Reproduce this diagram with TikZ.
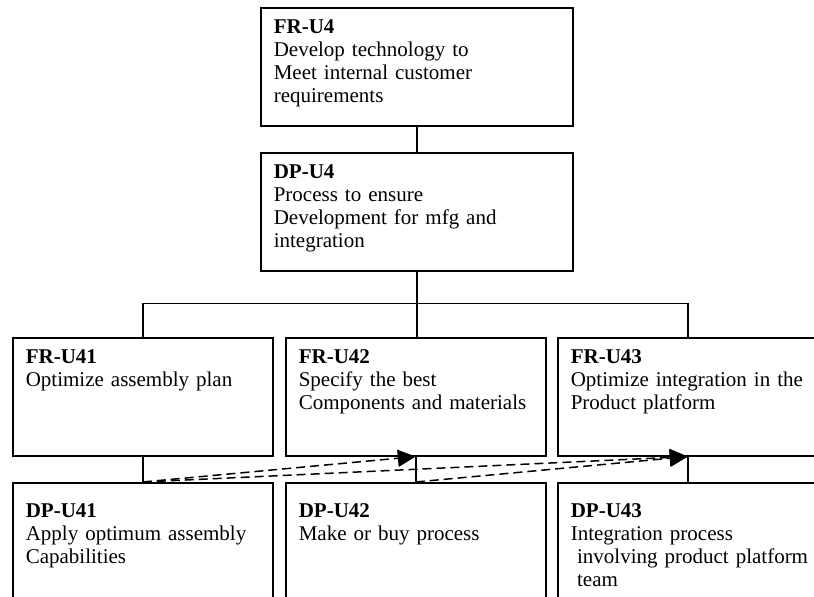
\documentclass[tikz,border=0pt]{standalone}
\usepackage{fontspec}
\setmainfont{Liberation Serif}
\usetikzlibrary{arrows.meta}

\begin{document}
\begin{tikzpicture}[x=1pt,y=1pt,>={Triangle[length=9pt,width=8.5pt]},
  req/.style={draw,line width=0.8pt,anchor=north west,align=left,
    font=\fontsize{10.5}{11.5}\selectfont,inner xsep=6.5pt,inner ysep=4pt,
    text height=9pt,text depth=42pt,text width=#1},
  req/.default=117pt,
  lowreq/.style={req,text height=13.5pt,text depth=37.5pt},
  link/.style={line width=0.9pt},
  flow/.style={->,line width=0.75pt,dash pattern=on 4.5pt off 2.5pt}]
\useasboundingbox (0,0) rectangle (407,-298.5);
\clip (0,0) rectangle (407,-298.5);
%%%TOP LEVEL
\node[req=143pt] (fr4) at (130,-3.5) {\textbf{FR-U4}\\Develop technology to\\Meet internal customer\\requirements};
\node[req=143pt] (dp4) at (130,-76) {\textbf{DP-U4}\\Process to ensure\\Development for mfg and\\integration};
%%%FUNCTIONAL REQUIREMENTS
\node[req] (fr41) at (6,-168.5) {\textbf{FR-U41}\\Optimize assembly plan};
\node[req] (fr42) at (142.5,-168.5) {\textbf{FR-U42}\\Specify the best\\Components and materials};
\node[req] (fr43) at (278.5,-168.5) {\textbf{FR-U43}\\\mbox{Optimize integration in the}\\Product platform};
%%%DESIGN PARAMETERS
\node[lowreq] (dp41) at (6,-241) {\textbf{DP-U41}\\Apply optimum assembly\\Capabilities};
\node[lowreq] (dp42) at (142.5,-241) {\textbf{DP-U42}\\Make or buy process};
\node[lowreq] (dp43) at (278.5,-241) {\textbf{DP-U43}\\Integration process\\\mbox{\hspace*{.3em}involving product platform}\\\hspace*{.3em}team};
%%%TREE
\path (dp4.south) ++(0,-16) coordinate (bus);
\draw[link] (fr4) -- (dp4);
\draw[link] (dp4.south) -- (dp4.south |- fr42.north);
\draw[link] (fr41.north) |- (bus) -| (fr43.north);
\draw[link] (fr41) -- (dp41);
\draw[link] (fr42) -- (dp42);
\draw[link] (fr43) -- (dp43);
%%%COUPLINGS
\draw[flow] (dp41.north) -- (fr42.south);
\draw[flow] (dp41.north) -- (fr43.south);
\draw[flow] (dp42.north) -- (fr43.south);
\end{tikzpicture}
\end{document}
